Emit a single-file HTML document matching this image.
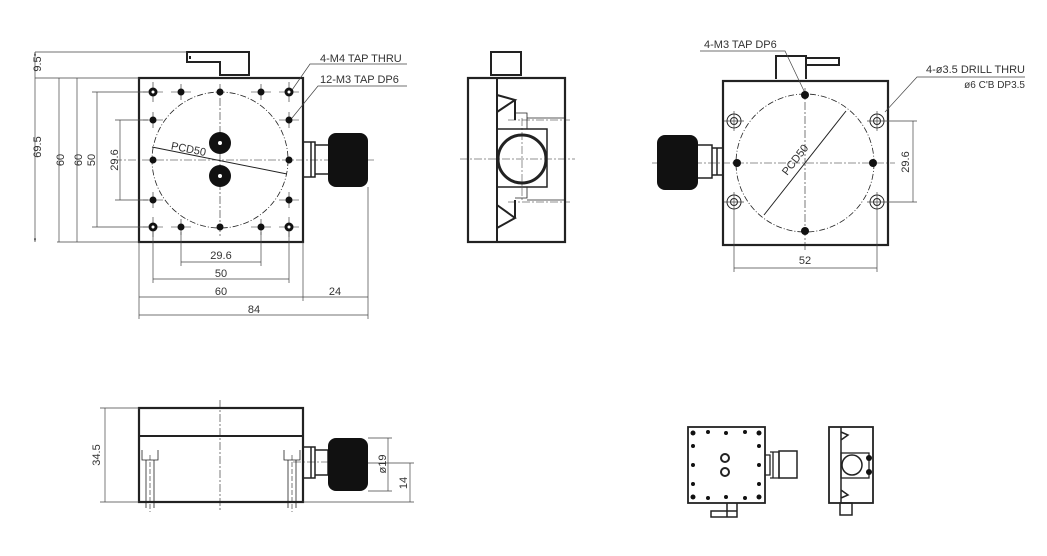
<!DOCTYPE html>
<html><head><style>body{margin:0;background:#fff}svg{display:block}text{font-family:"Liberation Sans",sans-serif;fill:#333;font-size:11px}</style></head>
<body>
<svg width="1047" height="556" viewBox="0 0 1047 556" xmlns="http://www.w3.org/2000/svg">
<defs>
<marker id="a" viewBox="0 0 10 10" refX="10" refY="5" markerWidth="5" markerHeight="5" orient="auto-start-reverse"><path d="M0,2 L10,5 L0,8z" fill="#333"/></marker>
</defs>
<g stroke="#222" fill="none">
<!-- VIEW 1 top -->
<path d="M187,52 H249 V75 H220 V62 H187 Z M190,56 V59" stroke-width="2"/>
<rect x="139" y="78" width="164" height="164" stroke-width="2.2"/>
<circle cx="220" cy="160" r="68" stroke-width="0.8" stroke-dasharray="6,2,1,2"/>
<path d="M220,84 V238 M114,160 H375" stroke-width="0.6" stroke-dasharray="8,2,2,2"/>
<line x1="152" y1="147" x2="287" y2="174" stroke-width="1"/>
<g stroke-width="0.6">
<path d="M143,92 H163 M153,82 V102 M279,92 H299 M289,82 V102 M143,227 H163 M153,217 V237 M279,227 H299 M289,217 V237"/>
<path d="M171,92 H191 M181,84 V100 M251,92 H271 M261,84 V100 M171,227 H191 M181,219 V235 M251,227 H271 M261,219 V235"/>
<path d="M143,120 H163 M153,112 V128 M279,120 H299 M289,112 V128 M143,200 H163 M153,192 V208 M279,200 H299 M289,192 V208"/>
</g>
<g stroke-width="0.7" stroke="#444">
<path d="M35,52 H187 M35,78 H139 M57,242 H139 M92,92 H148 M115,120 H148 M115,200 H148 M92,227 H148"/>
<line x1="35" y1="52" x2="35" y2="242" marker-start="url(#a)" marker-end="url(#a)"/>
<line x1="59" y1="78" x2="59" y2="242"/>
<line x1="77" y1="78" x2="77" y2="242"/>
<line x1="97" y1="92" x2="97" y2="227"/>
<line x1="120" y1="120" x2="120" y2="200"/>
<path d="M153,232 V283 M289,232 V283 M181,232 V266 M261,232 V266 M139,242 V319 M303,242 V301 M368,187 V319"/>
<line x1="181" y1="262" x2="261" y2="262"/>
<line x1="153" y1="279" x2="289" y2="279"/>
<line x1="139" y1="297" x2="368" y2="297"/>
<line x1="139" y1="315" x2="368" y2="315"/>
<path d="M292,90 L310,64 H407 M292,118 L318,86 H407"/>
</g>
<path d="M303,142 H315 V177 H303 M311,142 V177 M315,145 H328 M315,174 H328" stroke-width="1.5"/>
<!-- VIEW 2 side -->
<rect x="491" y="52" width="30" height="23" stroke-width="2"/>
<rect x="468" y="78" width="97" height="164" stroke-width="2.2"/>
<path d="M497,78 V242 M497,95 L515,100 L497,112 M497,205 L515,218 L497,228 M515,100 V120 M515,200 V218" stroke-width="2"/>
<rect x="497" y="129" width="50" height="58" stroke-width="1.5"/>
<circle cx="522" cy="159" r="24" stroke-width="3"/>
<path d="M515,113 H527 V129 M515,198 H527 V187 M527,118 H565 M527,200 H565" stroke-width="0.8"/>
<path d="M460,159 H575 M522,118 V200 M508,120 H570 M508,202 H570" stroke-width="0.5" stroke-dasharray="8,2,2,2"/>
<!-- VIEW 3 bottom -->
<path d="M776,79 V56 H806 V79 M806,58 H839 V65 H806" stroke-width="2"/>
<rect x="723" y="81" width="165" height="164" stroke-width="2.2"/>
<circle cx="805" cy="163" r="69" stroke-width="0.8" stroke-dasharray="6,2,1,2"/>
<path d="M805,88 V250 M652,163 H895" stroke-width="0.6" stroke-dasharray="8,2,2,2"/>
<line x1="764" y1="215" x2="846" y2="111" stroke-width="1"/>
<g stroke-width="1">
<circle cx="734" cy="121" r="7"/><circle cx="734" cy="121" r="3.5"/>
<circle cx="877" cy="121" r="7"/><circle cx="877" cy="121" r="3.5"/>
<circle cx="734" cy="202" r="7"/><circle cx="734" cy="202" r="3.5"/>
<circle cx="877" cy="202" r="7"/><circle cx="877" cy="202" r="3.5"/>
</g>
<g stroke-width="0.7" stroke="#444">
<path d="M724,121 H744 M734,111 V131 M724,202 H744 M734,192 V212 M867,121 H917 M877,111 V131 M867,202 H917 M877,192 V212 M734,212 V272 M877,212 V272"/>
<line x1="913" y1="121" x2="913" y2="202"/>
<line x1="734" y1="268" x2="877" y2="268"/>
<path d="M700,51 H785 L805,93 M885,112 L917,77 H1025"/>
</g>
<path d="M698,145 H712 V178 H698 M712,148 H723 M712,175 H723 M717,148 V175" stroke-width="1.5"/>
<!-- VIEW 4 front -->
<rect x="139" y="408" width="164" height="94" stroke-width="2.2"/>
<line x1="139" y1="436" x2="303" y2="436" stroke-width="2"/>
<path d="M220,400 V512 M293,462 H340" stroke-width="0.6" stroke-dasharray="8,2,2,2"/>
<path d="M142,450 V460 H158 V450 M146,460 V508 M154,460 V508 M284,450 V460 H300 V450 M288,460 V508 M296,460 V508" stroke-width="0.8"/>
<path d="M150,455 V512 M292,455 V512" stroke-width="0.6" stroke-dasharray="5,2"/>
<path d="M303,447 H315 V478 H303 M315,450 H328 V475 H315 M311,447 V478" stroke-width="1.5"/>
<g stroke-width="0.7" stroke="#444">
<path d="M100,408 H139 M100,502 H139 M368,438 H392 M368,491 H392 M368,463 H414 M303,502 H414"/>
<line x1="105" y1="408" x2="105" y2="502"/>
<line x1="388" y1="438" x2="388" y2="491"/>
<line x1="410" y1="463" x2="410" y2="502"/>
</g>
<!-- small views -->
<rect x="688" y="427" width="77" height="76" stroke-width="1.8"/>
<circle cx="725" cy="458" r="4" stroke-width="2"/><circle cx="725" cy="472" r="4" stroke-width="2"/>
<path d="M765,455 H770 V475 H765 M770,452 H779 V478 H770 M773,452 V478" stroke-width="1.3"/>
<rect x="779" y="451" width="18" height="27" stroke-width="1.5"/>
<path d="M711,517 H737 V511 H711 Z M727,503 V517 M737,503 V517" stroke-width="1.5"/>
<rect x="829" y="427" width="44" height="76" stroke-width="1.8"/>
<path d="M841,427 V503 M841,432 L848,435 L841,440 M841,490 L848,495 L841,498" stroke-width="1.5"/>
<rect x="841" y="453" width="28" height="25" stroke-width="1.3"/>
<circle cx="852" cy="465" r="10" stroke-width="1.5"/>
<rect x="840" y="503" width="12" height="12" stroke-width="1.5"/>
</g>
<g fill="#111">
<circle cx="153" cy="92" r="4.5"/><circle cx="289" cy="92" r="4.5"/><circle cx="153" cy="227" r="4.5"/><circle cx="289" cy="227" r="4.5"/>
<circle cx="181" cy="92" r="3.5"/><circle cx="220" cy="92" r="3.5"/><circle cx="261" cy="92" r="3.5"/>
<circle cx="181" cy="227" r="3.5"/><circle cx="220" cy="227" r="3.5"/><circle cx="261" cy="227" r="3.5"/>
<circle cx="153" cy="120" r="3.5"/><circle cx="153" cy="160" r="3.5"/><circle cx="153" cy="200" r="3.5"/>
<circle cx="289" cy="120" r="3.5"/><circle cx="289" cy="160" r="3.5"/><circle cx="289" cy="200" r="3.5"/>
<circle cx="220" cy="143" r="11"/><circle cx="220" cy="176" r="11"/>
<rect x="328" y="133" width="40" height="54" rx="8"/>
<circle cx="805" cy="95" r="4"/><circle cx="805" cy="231" r="4"/><circle cx="737" cy="163" r="4"/><circle cx="873" cy="163" r="4"/>
<rect x="657" y="135" width="41" height="55" rx="8"/>
<rect x="328" y="438" width="40" height="53" rx="8"/>
<circle cx="693" cy="433" r="2.5"/><circle cx="708" cy="432" r="2"/><circle cx="726" cy="433" r="2"/><circle cx="745" cy="432" r="2"/><circle cx="759" cy="433" r="2.5"/>
<circle cx="693" cy="497" r="2.5"/><circle cx="708" cy="498" r="2"/><circle cx="726" cy="497" r="2"/><circle cx="745" cy="498" r="2"/><circle cx="759" cy="497" r="2.5"/>
<circle cx="693" cy="446" r="2"/><circle cx="693" cy="465" r="2"/><circle cx="693" cy="484" r="2"/>
<circle cx="759" cy="446" r="2"/><circle cx="759" cy="465" r="2"/><circle cx="759" cy="484" r="2"/>
<circle cx="869" cy="458" r="3"/><circle cx="869" cy="472" r="3"/>
</g>
<g fill="#fff"><circle cx="220" cy="143" r="2"/><circle cx="220" cy="176" r="2"/><circle cx="153" cy="92" r="1.5"/><circle cx="289" cy="92" r="1.5"/><circle cx="153" cy="227" r="1.5"/><circle cx="289" cy="227" r="1.5"/></g>
<text x="320" y="62">4-M4 TAP THRU</text>
<text x="320" y="83">12-M3 TAP DP6</text>
<text x="171" y="152" transform="rotate(11 185 148)">PCD50</text>
<text transform="translate(41,64) rotate(-90)" text-anchor="middle">9.5</text>
<text transform="translate(41,147) rotate(-90)" text-anchor="middle">69.5</text>
<text transform="translate(64,160) rotate(-90)" text-anchor="middle">60</text>
<text transform="translate(82,160) rotate(-90)" text-anchor="middle">60</text>
<text transform="translate(95,160) rotate(-90)" text-anchor="middle">50</text>
<text transform="translate(118,160) rotate(-90)" text-anchor="middle">29.6</text>
<text x="221" y="259" text-anchor="middle">29.6</text>
<text x="221" y="277" text-anchor="middle">50</text>
<text x="221" y="295" text-anchor="middle">60</text>
<text x="335" y="295" text-anchor="middle">24</text>
<text x="254" y="313" text-anchor="middle">84</text>
<text x="704" y="48">4-M3 TAP DP6</text>
<text x="1025" y="73" text-anchor="end">4-ø3.5 DRILL THRU</text>
<text x="1025" y="88" text-anchor="end" style="font-size:10px">ø6 C'B DP3.5</text>
<text transform="translate(798,162) rotate(-52)" text-anchor="middle">PCD50</text>
<text transform="translate(909,162) rotate(-90)" text-anchor="middle">29.6</text>
<text x="805" y="264" text-anchor="middle">52</text>
<text transform="translate(100,455) rotate(-90)" text-anchor="middle">34.5</text>
<text transform="translate(386,464) rotate(-90)" text-anchor="middle">ø19</text>
<text transform="translate(407,483) rotate(-90)" text-anchor="middle">14</text>
</svg>
</body></html>
